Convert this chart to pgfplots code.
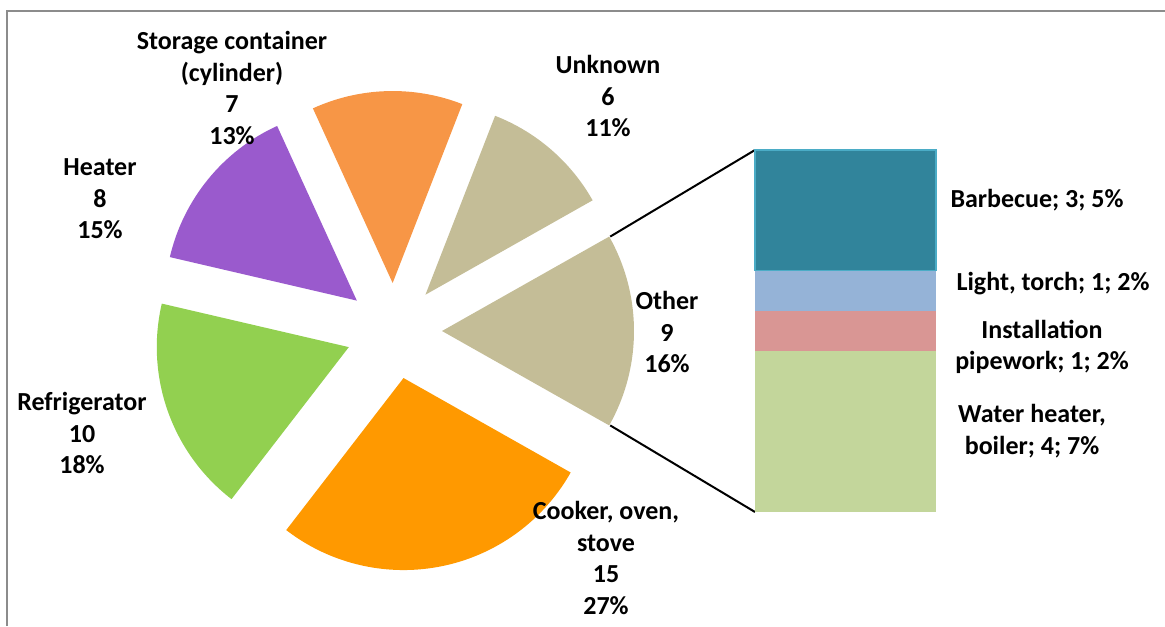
\documentclass[border=0pt]{standalone}
\usepackage{pgfplots}
\pgfplotsset{compat=1.18}
\usepackage{pgfplotstable}
\usepackage{fontspec}
\setmainfont{Carlito}
\definecolor{pc0}{HTML}{C4BD97}% Other
\definecolor{pc1}{HTML}{C4BD97}% Unknown
\definecolor{pc2}{HTML}{F79646}% Storage
\definecolor{pc3}{HTML}{9A5ACD}% Heater
\definecolor{pc4}{HTML}{92D050}% Refrigerator
\definecolor{pc5}{HTML}{FF9900}% Cooker
\definecolor{bbq}{HTML}{31849B}
\definecolor{bbqedge}{HTML}{4BACC6}
\definecolor{light}{HTML}{95B3D7}
\definecolor{inst}{HTML}{D99694}
\definecolor{water}{HTML}{C3D69B}
\definecolor{frame}{HTML}{8C8C8C}
\pgfplotstableread{
name value
Other 9
Unknown 6
Storage 7
Heater 8
Refrigerator 10
Cooker 15
}\pietable
\begin{document}
\begin{tikzpicture}
\path[use as bounding box] (0,0) rectangle (582.5pt,313pt);
% compute slice angles from the values
\def\pietot{0}
\pgfplotsforeachungrouped \i in {0,...,5}{%
  \pgfplotstablegetelem{\i}{value}\of\pietable
  \pgfmathsetmacro\pietot{\pietot+\pgfplotsretval}%
}
\pgfplotstablegetelem{0}{value}\of\pietable
\pgfmathsetmacro\cur{-\pgfplotsretval/\pietot*180}
\pgfplotsforeachungrouped \i in {0,...,5}{%
  \pgfplotstablegetelem{\i}{value}\of\pietable
  \pgfmathsetmacro\nxt{\cur+\pgfplotsretval/\pietot*360}%
  \pgfmathsetmacro\pmid{(\cur+\nxt)/2}%
  \pgfmathsetmacro\apx{394+48*cos(\pmid)}%
  \pgfmathsetmacro\apy{331-48*sin(\pmid)}%
  \expandafter\xdef\csname sa\i\endcsname{\cur}%
  \expandafter\xdef\csname ea\i\endcsname{\nxt}%
  \expandafter\xdef\csname ax\i\endcsname{\apx}%
  \expandafter\xdef\csname ay\i\endcsname{\apy}%
  \let\cur\nxt
}
\begin{axis}[
  name=main, at={(0,0)}, anchor=south west,
  x=0.5pt, y=0.5pt, xmin=0, xmax=1165, ymin=0, ymax=626,
  y dir=reverse, hide axis, clip=false,
  nodes={font=\bfseries\fontsize{13}{15.75}\selectfont, align=center, inner sep=0pt},
]
\pgfplotsinvokeforeach{0,...,5}{%
  \fill[pc#1] (axis cs:\csname ax#1\endcsname,\csname ay#1\endcsname)
    -- ++(\csname sa#1\endcsname:96pt)
    arc[start angle=\csname sa#1\endcsname, end angle=\csname ea#1\endcsname, radius=96pt]
    -- cycle;
}
% frame
\draw[frame, line width=1pt] (axis cs:6.5,626) -- (axis cs:6.5,11.5) -- (axis cs:1165,11.5);
% connectors
\draw[black, line width=1pt] (axis cs:610.2,236.6) -- (axis cs:755,150);
\draw[black, line width=1pt] (axis cs:610.2,425.4) -- (axis cs:755,512);
% pie labels
\node at (axis cs:232,88) {Storage container\\(cylinder)\\7\\13\%};
\node at (axis cs:608,96) {Unknown\\6\\11\%};
\node at (axis cs:100,199) {Heater\\8\\15\%};
\node at (axis cs:667,332) {Other\\9\\16\%};
\node at (axis cs:82,433) {Refrigerator\\10\\18\%};
\node at (axis cs:606,558) {Cooker, oven,\\stove\\15\\27\%};
% bar labels
\node at (axis cs:1037,200) {Barbecue; 3; 5\%};
\node at (axis cs:1053,284) {Light, torch; 1; 2\%};
\node at (axis cs:1042,347) {Installation\\pipework; 1; 2\%};
\node at (axis cs:1032,431) {Water heater,\\boiler; 4; 7\%};
\end{axis}
\begin{axis}[
  at={(377.5pt,57pt)}, anchor=south west,
  width=90.5pt, height=181pt, scale only axis,
  xmin=-0.5, xmax=0.5, ymin=0, ymax=9,
  ybar stacked, bar width=90.5pt, hide axis, clip=false,
]
\addplot[fill=water, draw=none] coordinates {(0,4)};
\addplot[fill=inst, draw=none] coordinates {(0,1)};
\addplot[fill=light, draw=none] coordinates {(0,1)};
\addplot[fill=bbq, draw=bbqedge, line width=0.75pt] coordinates {(0,3)};
\end{axis}
\end{tikzpicture}
\end{document}
